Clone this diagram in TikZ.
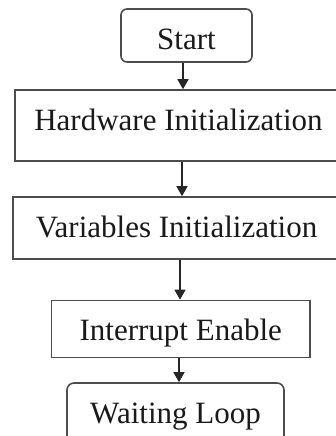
\documentclass[tikz,border=0pt]{standalone}
\usepackage{fontspec}
\setmainfont{Liberation Serif}
\usetikzlibrary{arrows.meta}
\begin{document}
\begin{tikzpicture}[x=1pt,y=1pt,
  box/.style={draw=black!70, line width=1.6pt, inner sep=0pt, text=black!90, font=\fontsize{31}{37}\selectfont},
  arr/.style={draw=black!85, line width=1.4pt, -{Triangle[length=10pt,width=11pt]}}]
\useasboundingbox (0,0) rectangle (336,-436);
\clip (0,0) rectangle (336,-436);
\node[box, rounded corners=6pt, minimum width=131pt, minimum height=53pt, text height=41pt, text depth=12pt] (start) at (186.5,-35.5) {Start};
\node[box, minimum width=327pt, minimum height=71pt, text height=40pt, text depth=31pt] (hw) at (178.5,-125.5) {Hardware Initialization};
\node[box, minimum width=327pt, minimum height=62pt, text height=40pt, text depth=22pt] (var) at (176.5,-228) {Variables Initialization};
\node[box, minimum width=258.5pt, minimum height=57pt, text height=39.5pt, text depth=17.5pt] (int) at (180.75,-329) {Interrupt Enable};
\node[box, rounded corners=7pt, minimum width=217pt, minimum height=62pt, text height=40pt, text depth=22pt] (wait) at (175.5,-414) {Waiting Loop};
\draw[arr] (start.south -| 183,0) -- (hw.north -| 183,0);
\draw[arr] (hw.south -| 182,0) -- (var.north -| 182,0);
\draw[arr] (var.south -| 180,0) -- (int.north -| 180,0);
\draw[arr] (int.south -| 179,0) -- (wait.north -| 179,0);
\end{tikzpicture}
\end{document}
